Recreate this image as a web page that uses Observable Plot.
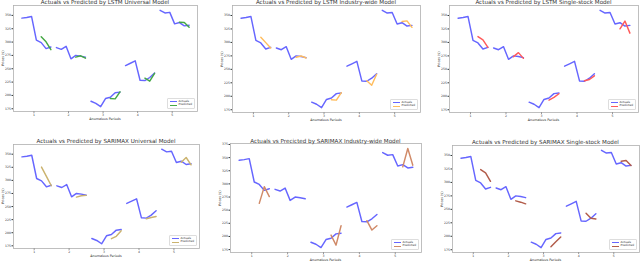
<!DOCTYPE html>
<html><head><meta charset="utf-8">
<script src="https://cdn.jsdelivr.net/npm/d3@7"></script>
<script src="https://cdn.jsdelivr.net/npm/@observablehq/plot@0.6"></script>
<style>
body{margin:0;background:#fff;}
#root{position:relative;width:640px;height:263px;overflow:hidden;font-family:"DejaVu Sans",sans-serif;}
.title{position:absolute;font-size:5.6px;color:#333;white-space:nowrap;transform:translate(-50%,-50%);}
.xlab{position:absolute;font-size:3.3px;color:#222;white-space:nowrap;transform:translate(-50%,-50%);}
.ylab{position:absolute;font-size:3.3px;color:#222;white-space:nowrap;transform:translate(-50%,-50%) rotate(-90deg);}
.legend{position:absolute;border:0.5px solid #ddd;background:#fff;border-radius:1px;padding:1px 1.5px;font-size:2.9px;color:#333;line-height:3.8px;}
.legend .row{display:flex;align-items:center;white-space:nowrap;}
.legend .sw{display:inline-block;width:7px;height:1.3px;margin-right:2px;}
</style></head><body><div id="root"></div>
<script>
const periods = [1, 2, 3, 4, 5];
const pointOffsets = [-0.35, -0.21, -0.07, 0.07, 0.21, 0.35, 0.49];
const yTickValues = [175, 200, 225, 250, 275, 300, 325, 350, 375];
const actuals = [
  [344.9, 346.2, 348.0, 303.6, 299.0, 287.7, 290.8],
  [289.6, 286.4, 292.1, 268.6, 275.0, 273.7, 271.7],
  [189.0, 185.2, 178.9, 194.1, 196.7, 204.9, 206.2],
  [255.9, 260.3, 264.8, 228.5, 227.9, 233.6, 241.9],
  [359.5, 354.5, 355.7, 334.1, 336.6, 330.3, 331.6]
];
const lstmUniversal = [[310.0, 300.4, 285.8], [271.7, 274.3, 269.8], [194.1, 193.5, 206.8], [232.3, 226.6, 241.3], [337.3, 336.6, 327.7]];
const lstmIndustry = [[309.7, 299.6, 289.5], [272.4, 274.9, 271.0], [193.5, 192.8, 206.7], [228.8, 220.6, 240.8], [339.0, 340.0, 328.0]];
const lstmSingle = [[310.8, 304.6, 290.9], [273.5, 281.0, 270.4], [192.9, 197.9, 204.7], [228.7, 231.2, 238.0], [325.3, 339.6, 317.2]];
const sarimaxUniversal = [[325.3, 307.6, 289.8], [268.1, 270.6, 271.3], [188.7, 193.1, 203.9], [226.6, 229.1, 231.0], [334.8, 343.7, 329.7]];
const sarimaxIndustry = [[263.0, 294.8, 275.8], null, [202.6, 183.5, 220.4], [230.0, 212.2, 220.5], [332.4, 367.4, 335.6]];
const sarimaxSingle = [[323.8, 317.6, 302.0], [265.8, 263.3, 260.2], [180.4, 189.8, 198.5], [242.8, 233.4, 232.2], [339.4, 340.6, 331.3]];
const titles = [
  "Actuals vs Predicted by LSTM Universal Model",
  "Actuals vs Predicted by LSTM Industry-wide Model",
  "Actuals vs Predicted by LSTM Single-stock Model",
  "Actuals vs Predicted by SARIMAX Universal Model",
  "Actuals vs Precicted by SARIMAX Industry-wide Model",
  "Actuals vs Predicted by SARIMAX Single-stock Model"
];
const xLabel = "Anomalous Periods";
const yLabel = "Prices ($)";
const legendLabels = ["Actuals", "Predicted"];

const root = document.getElementById("root");
const actualColor = "#6666ff";

const panels = [
  {pred: lstmUniversal, color: "#45a845", title: titles[0], x0: 13, x1: 197, y0: 5, y1: 111, ty: 1.5},
  {pred: lstmIndustry, color: "#ffbd5e", title: titles[1], x0: 232, x1: 420, y0: 5, y1: 112, ty: 1.5},
  {pred: lstmSingle, color: "#ff5a5a", title: titles[2], x0: 449, x1: 638, y0: 5, y1: 112, ty: 1.5},
  {pred: sarimaxUniversal, color: "#cbb36e", title: titles[3], x0: 13, x1: 199, y0: 144, y1: 248, ty: 140.5},
  {pred: sarimaxIndustry, color: "#d08a68", title: titles[4], x0: 230, x1: 421, y0: 143, y1: 252, ty: 140.5},
  {pred: sarimaxSingle, color: "#b25c4a", title: titles[5], x0: 452, x1: 639, y0: 145, y1: 252, ty: 142}
];

function pad(e) { const r = e[1] - e[0]; return [e[0] - 0.05 * r, e[1] + 0.05 * r]; }

function div(cls, text, left, top) {
  const d = document.createElement("div");
  d.className = cls; d.textContent = text;
  d.style.left = left + "px"; d.style.top = top + "px";
  root.appendChild(d); return d;
}

panels.forEach(cfg => {
  const {x0, x1, y0, y1} = cfg;
  const mL = 13, mR = 1, mT = 1, mB = 8;
  const act = [];
  periods.forEach((p, i) => actuals[i].forEach((v, j) => act.push({p, x: p + pointOffsets[j], y: v})));
  const pr = [];
  periods.forEach((p, i) => { if (cfg.pred[i]) cfg.pred[i].forEach((v, k) => pr.push({p, x: p + pointOffsets[4 + k], y: v})); });
  const all = act.concat(pr);
  const xd = pad(d3.extent(all, d => d.x));
  const yd = pad(d3.extent(all, d => d.y));
  const ticks = yTickValues.filter(t => t >= yd[0] && t <= yd[1]);
  const svg = Plot.plot({
    width: x1 - x0 + mL + mR, height: y1 - y0 + mT + mB,
    marginLeft: mL, marginRight: mR, marginTop: mT, marginBottom: mB,
    style: {fontFamily: "DejaVu Sans", fontSize: "3.1px", background: "transparent", overflow: "visible", color: "#333"},
    x: {domain: xd, ticks: periods, tickFormat: d => String(d), tickSize: 1.5, tickPadding: 1, label: null},
    y: {domain: yd, ticks: ticks, tickFormat: d => String(d), tickSize: 1.5, tickPadding: 1, label: null},
    marks: [
      Plot.frame({stroke: "#b0b0b0", strokeWidth: 0.8}),
      Plot.line(act, {x: "x", y: "y", z: "p", stroke: actualColor, strokeWidth: 1.45}),
      Plot.line(pr, {x: "x", y: "y", z: "p", stroke: cfg.color, strokeWidth: 1.45})
    ]
  });
  svg.style.position = "absolute";
  svg.style.left = (x0 - mL) + "px";
  svg.style.top = (y0 - mT) + "px";
  root.appendChild(svg);

  div("title", cfg.title, (x0 + x1) / 2, cfg.ty);
  div("xlab", xLabel, (x0 + x1) / 2, y1 + 8);
  div("ylab", yLabel, x0 - 10.5, (y0 + y1) / 2);

  const lg = document.createElement("div");
  lg.className = "legend";
  [[actualColor, legendLabels[0]], [cfg.color, legendLabels[1]]].forEach(([c, t]) => {
    const r = document.createElement("div"); r.className = "row";
    const s = document.createElement("span"); s.className = "sw"; s.style.background = c;
    r.appendChild(s); r.appendChild(document.createTextNode(t)); lg.appendChild(r);
  });
  root.appendChild(lg);
  lg.style.left = (x1 - 2 - lg.offsetWidth) + "px";
  lg.style.top = (y1 - 1.5 - lg.offsetHeight) + "px";
});
</script></body></html>
